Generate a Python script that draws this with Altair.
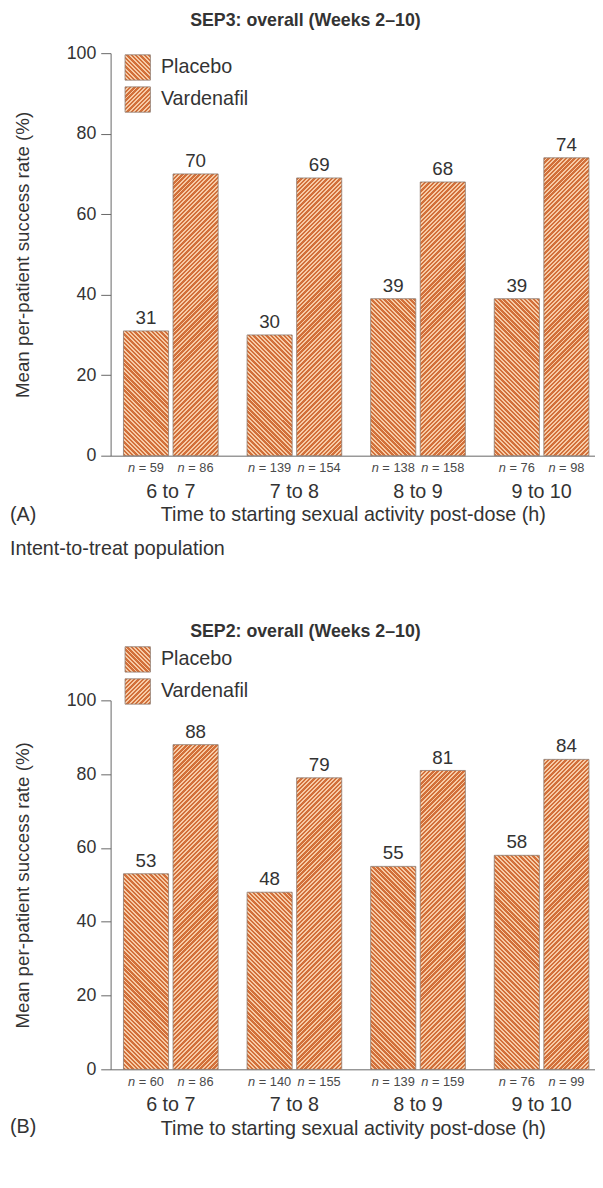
import altair as alt
import math
import json

# ---------------- data ----------------
categories = ["6 to 7", "7 to 8", "8 to 9", "9 to 10"]
treatments = ["Placebo", "Vardenafil"]

sep3_placebo = [31, 30, 39, 39]
sep3_vardenafil = [70, 69, 68, 74]
sep3_n_placebo = [59, 139, 138, 76]
sep3_n_vardenafil = [86, 154, 158, 98]

sep2_placebo = [53, 48, 55, 58]
sep2_vardenafil = [88, 79, 81, 84]
sep2_n_placebo = [60, 140, 139, 76]
sep2_n_vardenafil = [86, 155, 159, 99]

title_top = "SEP3: overall (Weeks 2\u201310)"
title_bottom = "SEP2: overall (Weeks 2\u201310)"
notes_top = ["(A)", "Intent-to-treat population"]
notes_bottom = ["(B)"]
y_title = "Mean per-patient success rate (%)"
x_title = "Time to starting sexual activity post-dose (h)"

# ---------------- style ----------------
FONT = "Liberation Sans"
TXT = "#333333"
DARK = "#d2703a"
LIGHT = "#f7cba6"
EDGE = "#8c7a70"
AXIS_C = "#666666"

W = 491
H_TOP = 408
H_BOT = 374
PAD_IN = 0.234
PAD_OUT = 0.0765
ALIGN = 0.68
OFF_PAD = 0.09
PERIOD = 3.1
DARK_FRAC = 0.56
SYM_SIZE = 660
N_FS = 13

step = W / (len(categories) - PAD_IN + 2 * PAD_OUT)
group_w = step * (1 - PAD_IN)
bar_w = group_w / (2 - OFF_PAD) * (1 - OFF_PAD)


def stripes(w, h, kind):
    """Diagonal hatch as a many-stop linear gradient (45 degree stripes)."""
    h = max(h, 1.0)
    r = w / h
    s = (r + 1) / (r * r + 1)
    if kind == "Placebo":  # '\\' stripes
        x1, y1, x2, y2 = 0, 1, r * s, 1 - s
    else:  # '//' stripes
        x1, y1, x2, y2 = 0, 0, r * s, s
    n = (w + h) / (math.sqrt(2) * PERIOD)
    stops = []
    k = 0
    while k / n < 1:
        a = k / n
        m = min((k + DARK_FRAC) / n, 1)
        b = min((k + 1) / n, 1)
        stops += [
            {"offset": round(a, 5), "color": DARK},
            {"offset": round(m, 5), "color": DARK},
            {"offset": round(m, 5), "color": LIGHT},
            {"offset": round(b, 5), "color": LIGHT},
        ]
        k += 1
    return {"gradient": "linear", "x1": round(x1, 5), "y1": round(y1, 5),
            "x2": round(x2, 5), "y2": round(y2, 5), "stops": stops}


sym_side = math.sqrt(SYM_SIZE)
legend_fill_expr = "datum.value === 'Placebo' ? %s : %s" % (
    json.dumps(stripes(sym_side, sym_side, "Placebo")),
    json.dumps(stripes(sym_side, sym_side, "Vardenafil")),
)

# approximate advance widths (em) of Liberation Sans for centring "n = 59"
EM_N, EM_SP, EM_EQ, EM_D = 0.556, 0.278, 0.584, 0.556


def panel(title, placebo, vard, n_p, n_v, H, legend_y, title_offset, notes, note_ys):
    rows = []
    for i, c in enumerate(categories):
        for t, vals, ns in (("Placebo", placebo, n_p), ("Vardenafil", vard, n_v)):
            v = vals[i]
            rows.append({
                "category": c,
                "treatment": t,
                "value": v,
                "nrest": "= %d" % ns[i],
                "ndig": len(str(ns[i])),
                "grad": stripes(bar_w, v / 100.0 * H, t),
            })
    data = alt.Data(values=rows)

    base = alt.Chart(data).encode(
        x=alt.X("category:N", sort=categories,
                scale=alt.Scale(paddingInner=PAD_IN, paddingOuter=PAD_OUT, align=ALIGN),
                axis=alt.Axis(title=x_title, labelAngle=0, ticks=False, tickSize=0,
                              labelPadding=26, labelFontSize=20, labelFont=FONT,
                              labelColor=TXT, titleFontSize=20, titleFont=FONT,
                              titleFontWeight="normal", titleColor=TXT, titlePadding=4,
                              domainColor=AXIS_C, domainWidth=1)),
        xOffset=alt.XOffset("treatment:N", sort=treatments,
                            scale=alt.Scale(paddingInner=OFF_PAD, paddingOuter=0)),
        y=alt.Y("value:Q", scale=alt.Scale(domain=[0, 100]),
                axis=alt.Axis(title=y_title, values=[0, 20, 40, 60, 80, 100], grid=False,
                              tickSize=10, labelPadding=5, labelFontSize=18, labelFont=FONT,
                              labelColor=TXT, titleFontSize=19, titleFont=FONT,
                              titleFontWeight="normal", titleColor=TXT, titlePadding=34,
                              domainColor=AXIS_C, tickColor=AXIS_C)),
    )

    bars = base.mark_bar(strokeWidth=0.8).encode(
        fill=alt.Fill("grad:N", scale=None),
        stroke=alt.Stroke("treatment:N", sort=treatments,
                          scale=alt.Scale(domain=treatments, range=[EDGE, EDGE]),
                          legend=alt.Legend(title=None, orient="none", legendX=14,
                                            legendY=legend_y, symbolType="square",
                                            symbolSize=SYM_SIZE,
                                            symbolFillColor={"expr": legend_fill_expr},
                                            symbolStrokeWidth=0.8, symbolOpacity=1,
                                            labelFontSize=20, labelFont=FONT,
                                            labelColor=TXT, labelOffset=10,
                                            rowPadding=3.5, padding=0)),
    )

    values = base.mark_text(dy=-13, fontSize=19, font=FONT, color=TXT,
                            baseline="middle").encode(text="value:Q")

    layers = [bars, values]
    for nd in (2, 3):
        total = (EM_N + 2 * EM_SP + EM_EQ + nd * EM_D) * N_FS
        sub = base.transform_filter("datum.ndig == %d" % nd)
        layers.append(
            sub.mark_text(fontSize=N_FS, font=FONT, color="#4a4a4a", fontStyle="italic",
                          align="left", baseline="middle", dx=-total / 2, text="n")
            .encode(y=alt.value(H + 13))
        )
        layers.append(
            sub.mark_text(fontSize=N_FS, font=FONT, color="#4a4a4a",
                          align="left", baseline="middle",
                          dx=-total / 2 + (EM_N + EM_SP) * N_FS)
            .encode(y=alt.value(H + 13), text="nrest:N")
        )

    for note, ny in zip(notes, note_ys):
        layers.append(
            alt.Chart(alt.Data(values=[{"note": note}])).mark_text(
                align="left", baseline="middle", fontSize=20, font=FONT, color=TXT
            ).encode(x=alt.value(-102), y=alt.value(ny), text="note:N")
        )

    return alt.layer(*layers).properties(
        width=W, height=H,
        title=alt.TitleParams(text=title, font=FONT, fontSize=18, fontWeight="bold",
                              color=TXT, anchor="middle", frame="group", dx=-48,
                              offset=title_offset, baseline="middle"),
    )


top = panel(title_top, sep3_placebo, sep3_vardenafil, sep3_n_placebo, sep3_n_vardenafil,
            H_TOP, 1, 6, notes_top, [H_TOP + 60, H_TOP + 95])
bottom = panel(title_bottom, sep2_placebo, sep2_vardenafil, sep2_n_placebo,
               sep2_n_vardenafil, H_BOT, -55, -4, notes_bottom, [H_BOT + 59])

chart = (
    alt.vconcat(top, bottom, spacing=248, bounds="flush")
    .resolve_scale(stroke="independent", x="independent", y="independent")
    .resolve_legend(stroke="independent")
    .properties(padding={"left": 2, "top": -4, "right": 0, "bottom": 5})
    .configure_view(stroke=None)
)

chart.save("out.html", embed_options={"renderer": "svg", "actions": False})
